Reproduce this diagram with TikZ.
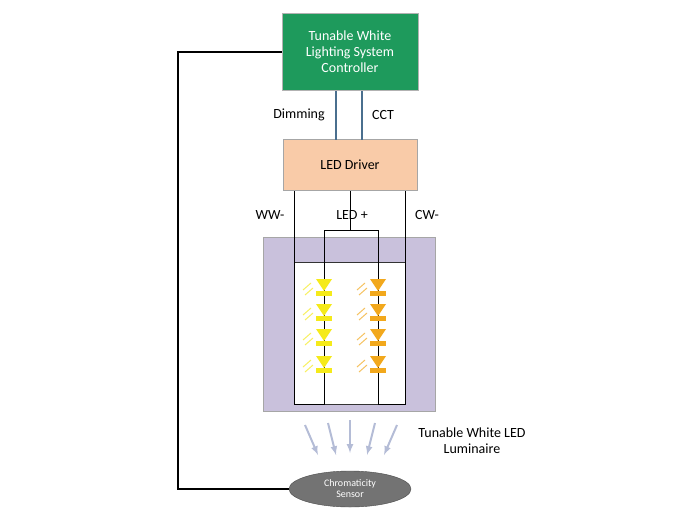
\documentclass[tikz,border=0pt]{standalone}
\usepackage{fontspec}
\setmainfont{Carlito}
\usetikzlibrary{shapes.geometric, positioning, calc}
\definecolor{ctrlgreen}{HTML}{1E9A5C}
\definecolor{drvpeach}{HTML}{F9CBA8}
\definecolor{lumlav}{HTML}{C9C1DC}
\definecolor{wwyellow}{HTML}{F5EA1A}
\definecolor{cworange}{HTML}{F2A81C}
\definecolor{sigblue}{HTML}{4A6F8E}
\definecolor{raygrey}{HTML}{B4BCD6}
\begin{document}
\begin{tikzpicture}[x=1pt, y=-1pt]
 \tikzstyle{ctrl} = [fill=ctrlgreen, draw=gray!60, rectangle, minimum width=136pt, minimum height=77pt, text=white, align=center, font=\fontsize{14}{16}\selectfont, inner sep=0pt]
 \tikzstyle{drv} = [fill=drvpeach, draw=gray!70, rectangle, minimum width=134pt, minimum height=51pt, font=\fontsize{14}{16}\selectfont]
 \tikzstyle{sens} = [fill=gray!90!black, draw=gray!60!black, ellipse, minimum width=122pt, minimum height=36pt, text=white, align=center, font=\fontsize{10}{11}\selectfont, inner sep=0pt]
 \tikzstyle{lbl} = [font=\fontsize{14}{16}\selectfont]
 \tikzstyle{wire} = [draw=black, line width=0.8pt]
 \tikzstyle{ray} = [draw=raygrey, line width=2pt, -latex]
 \useasboundingbox (0,0) rectangle (700,522);

 \node [ctrl] (ctrl) at (350,52) {Tunable White\\Lighting System\\Controller};
 \node [drv] (drv) at (350,165) {LED Driver};
 \draw [fill=lumlav, draw=gray!70] (263,237) rectangle (435,411);
 \draw [fill=white, draw=black!80, line width=0.8pt] (294,262) rectangle (405,404);
 \node [sens] (sens) at (350,489) {Chromaticity\\Sensor};

 % control signals
 \draw [draw=sigblue, line width=1.2pt] (336,91) -- (336,140);
 \draw [draw=sigblue, line width=1.2pt] (362,91) -- (362,140);
 \node [lbl] (dim) at (299,115) {Dimming};
 \node [lbl] (cct) at (383,115) {CCT};

 % driver outputs
 \coordinate (ww) at (294,191);
 \coordinate (cw) at (405,191);
 \coordinate (lp) at (350,191);
 \draw [wire] (ww) -- (294,404) -- (324,404) -- (324,230) -- (378,230) -- (378,404) -- (405,404) -- (cw);
 \draw [wire] (lp) -- (350,230);
 \node [lbl] (wwl) at (270,215) {WW-};
 \node [lbl] (ledl) at (352,215) {LED +};
 \node [lbl] (cwl) at (427,215) {CW-};

 % LEDs
 \foreach \y in {288,313,338,365} {
  \foreach \x/\c in {324/wwyellow, 378/cworange} {
   \fill [\c] (\x-8,\y-9) -- (\x+8,\y-9) -- (\x,\y+3) -- cycle;
   \fill [\c] (\x-8,\y+3) rectangle (\x+8,\y+8);
   \draw [\c!70, line width=1pt] (\x-13,\y-5) -- (\x-21,\y+2);
   \draw [\c!70, line width=1pt] (\x-11,\y) -- (\x-19,\y+7);
  }
 }

 % light rays
 \draw [ray] (305,425) -- (318,455);
 \draw [ray] (328,423) -- (336,455);
 \draw [ray] (350,420) -- (350,453);
 \draw [ray] (375,423) -- (367,455);
 \draw [ray] (397,425) -- (384,455);
 \node [lbl, align=center] (luml) at (472,441) {Tunable White LED\\Luminaire};

 % feedback
 \draw [draw=black, line width=1.5pt] (ctrl.west) -- (178,52) -- (178,489) -- (sens.west);
\end{tikzpicture}
\end{document}
